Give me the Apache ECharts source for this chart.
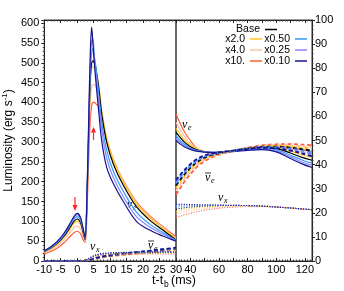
<!DOCTYPE html>
<html><head><meta charset="utf-8">
<script src="https://cdn.jsdelivr.net/npm/echarts@6/dist/echarts.min.js"></script>
<style>html,body{margin:0;padding:0;background:#fff}#c{width:344px;height:291px}</style>
</head><body><div id="c"></div>
<script>
// model order (drawing order, bottom to top)
const models = ['x10.', 'x4.0', 'x2.0', 'Base', 'x0.50', 'x0.25', 'x0.10'];
const colors = ['#ff5a3c', '#ffbfa6', '#ffc81e', '#000000', '#3399ff', '#8585ff', '#141490'];

// left panel times (ms after bounce)
const tLeft = [-10, -8, -6, -4, -2, -1, 0, 1, 1.8, 2.4, 3.0, 3.5, 4.0, 4.4, 4.8, 5.2, 5.6, 6.5, 7.5, 9, 11, 14, 18, 22, 26, 30];
// right panel times
const tRight = [30, 33, 36, 40, 45, 50, 55, 60, 70, 80, 90, 100, 110, 118, 125];

// nu_e, left panel
const nueLeft = [
  [18,24,33,46,63,71,75,69,54,47,135,260,360,392,400,400,397,390,358,304,255,203,149,114,87,61],
  [21,28,39,54,74,84,88,81,62,50,150,290,410,440,445,445,440,420,372,309,257,202,147,112,85,57],
  [23,31,43,60,83,95,100,92,70,53,160,310,450,485,490,488,480,445,378,308,254,199,144,109,82,55],
  [24,33,45,63,87,100,106,97,73,54,165,320,465,500,505,500,490,440,368,298,244,191,137,103,78,53],
  [25,34,47,66,92,105,112,103,77,56,170,335,485,525,535,515,495,425,348,278,226,176,123,93,72,52],
  [25.5,35,49,68,95,109,117,107,80,57,175,345,505,555,560,515,480,405,328,258,210,162,112,86,68,51],
  [26,36,50,70,97,112,120,110,82,58,180,360,530,590,545,500,460,380,300,235,195,150,100,78,63,50]
];
// anti nu_e, left panel
const anueLeft = [
  [0.5,0.5,0.5,0.5,0.5,0.5,0.5,0.5,0.5,0.5,0.8,1.6,2.5,3.3,4.2,5.0,5.7,7.2,8.8,10.7,12.8,15.4,18.5,21.5,24.7,27.5],
  [0.5,0.5,0.5,0.5,0.5,0.5,0.5,0.5,0.5,0.5,0.9,1.8,2.7,3.6,4.5,5.4,6.2,7.8,9.4,11.4,13.6,16.3,19.5,22.6,26,29],
  [0.5,0.5,0.5,0.5,0.5,0.5,0.5,0.5,0.5,0.5,1,1.9,2.9,3.8,4.8,5.7,6.5,8.2,9.9,11.9,14.2,17,20.3,23.5,27,30.3],
  [0.5,0.5,0.5,0.5,0.5,0.5,0.5,0.5,0.5,0.5,1,2,3,4,5,6,6.8,8.5,10.2,12.3,14.7,17.6,21,24.2,27.8,31.3],
  [0.5,0.5,0.5,0.5,0.5,0.5,0.5,0.5,0.5,0.5,1.1,2.2,3.2,4.3,5.3,6.3,7.1,8.9,10.7,12.8,15.2,18.2,21.6,24.9,28.6,32.3],
  [0.5,0.5,0.5,0.5,0.5,0.5,0.5,0.5,0.5,0.5,1.1,2.3,3.4,4.5,5.6,6.6,7.4,9.2,11,13.1,15.6,18.6,22.1,25.5,29.2,33],
  [0.5,0.5,0.5,0.5,0.5,0.5,0.5,0.5,0.5,0.5,1.2,2.4,3.5,4.6,5.7,6.8,7.6,9.4,11.2,13.4,16,19,22.6,26,29.8,33.5]
];
// nu_x, left panel
const nuxLeft = [
  [0.3,0.3,0.3,0.3,0.3,0.3,0.3,0.3,0.5,1.3,2.8,4.4,6,7.5,8.9,10.3,11.6,13.5,15,15.9,16.7,17.3,17.6,17.8,17.9,18],
  [0.3,0.3,0.3,0.3,0.3,0.3,0.3,0.3,0.6,1.6,3.2,5,6.8,8.3,9.8,11.2,12.6,14.6,16.1,17.1,17.9,18.6,19,19.2,19.3,19.4],
  [0.3,0.3,0.3,0.3,0.3,0.3,0.3,0.4,0.7,1.8,3.6,5.5,7.4,8.9,10.4,11.9,13.4,15.4,16.9,17.9,18.7,19.5,20,20.2,20.4,20.5],
  [0.3,0.3,0.3,0.3,0.3,0.3,0.3,0.4,0.8,2,4,6,8,9.5,11,12.5,14,16,17.5,18.5,19.4,20.2,20.8,21.1,21.3,21.5],
  [0.3,0.3,0.3,0.3,0.3,0.3,0.3,0.4,0.9,2.2,4.4,6.4,8.5,10,11.5,13,14.5,16.5,18,19,20,20.8,21.5,21.9,22.2,22.4],
  [0.3,0.3,0.3,0.3,0.3,0.3,0.3,0.5,1,2.4,4.8,6.8,8.9,10.4,12,13.4,14.9,16.9,18.4,19.4,20.4,21.3,22,22.5,22.8,23],
  [0.3,0.3,0.3,0.3,0.3,0.3,0.3,0.5,1,2.5,5,7,9.2,10.8,12.3,13.8,15.2,17.2,18.8,19.8,20.8,21.7,22.4,22.9,23.2,23.5]
];
// nu_e, right panel
const nueRight = [
  [61,57,53.5,50,46.5,45.3,44.7,44.8,45.6,46.5,47.4,47.8,47.1,46.2,45.3],
  [57.5,54.5,51.7,48.8,46.6,45.3,44.8,44.9,45.6,46.4,47.2,47.4,46.4,45.2,44.2],
  [55,52.5,50.2,48,46.3,45.3,44.9,45.0,45.6,46.3,47.0,47.0,45.6,44.1,43],
  [53.5,51.2,49.2,47.4,46,45.3,45,45.1,45.6,46.2,46.8,46.6,44.8,43,41.8],
  [52,50,48.3,46.9,45.8,45.3,45.1,45.1,45.6,46.1,46.6,46.1,43.9,41.9,40.6],
  [51,49.2,47.8,46.6,45.7,45.3,45.1,45.1,45.5,46.0,46.4,45.7,43.2,41.1,39.7],
  [50,48.5,47.3,46.3,45.5,45.2,45.1,45.1,45.4,45.9,46.2,45.3,42.5,40.3,38.8]
];
// anti nu_e, right panel
const anueRight = [
  [27.5,30.3,33,36,39.3,41.5,43,44.1,45.7,47,48,48.4,48.5,48.3,48.1],
  [29,31.7,34.2,37,40,42,43.4,44.3,45.7,46.9,47.8,48.1,48.0,47.6,47.3],
  [30.3,32.8,35.2,37.9,40.7,42.5,43.7,44.5,45.8,46.8,47.6,47.8,47.5,47.0,46.6],
  [31.3,33.8,36,38.6,41.2,42.9,44,44.7,45.8,46.7,47.4,47.5,47.0,46.4,45.8],
  [32.3,34.7,36.8,39.3,41.7,43.3,44.2,44.9,45.8,46.6,47.2,47.2,46.6,45.8,45],
  [33,35.3,37.4,39.8,42.1,43.6,44.4,45.0,45.8,46.6,47.1,47.0,46.2,45.2,44.2],
  [33.5,35.8,37.8,40.2,42.4,43.8,44.6,45.1,45.8,46.5,47.0,46.8,45.8,44.6,43.4]
];
// nu_x, right panel
const nuxRight = [
  [18,18.6,19.2,19.8,20.5,21.1,21.5,21.9,22.4,22.6,22.6,22.3,22.0,21.6,21.3],
  [19.4,19.9,20.4,20.9,21.4,21.8,22.1,22.4,22.7,22.8,22.7,22.4,22.0,21.6,21.3],
  [20.5,20.9,21.3,21.7,22.1,22.4,22.6,22.8,22.9,22.9,22.8,22.4,22.0,21.6,21.3],
  [21.5,21.8,22.1,22.4,22.6,22.8,22.9,23.0,23.0,23.0,22.8,22.4,22.0,21.6,21.3],
  [22.4,22.6,22.8,22.9,23,23.1,23.1,23.1,23.1,23.0,22.8,22.4,22.0,21.6,21.3],
  [23,23.1,23.2,23.2,23.2,23.2,23.2,23.2,23.1,23.0,22.8,22.4,22.0,21.6,21.3],
  [23.5,23.5,23.5,23.4,23.4,23.3,23.3,23.2,23.1,23.0,22.8,22.4,22.0,21.6,21.3]
];

const FONT = 'Liberation Sans';
const species = [
  { left: nueLeft, right: nueRight, type: 'solid', width: 1.2 },
  { left: anueLeft, right: anueRight, type: [4, 2.5], width: 1.8 },
  { left: nuxLeft, right: nuxRight, type: [1, 1.6], width: 1.1 }
];

const series = [];
species.forEach(sp => {
  models.forEach((m, i) => {
    series.push({
      name: m, type: 'line', xAxisIndex: 0, yAxisIndex: 0,
      data: tLeft.map((t, k) => [t, sp.left[i][k]]),
      showSymbol: false, smooth: 0.35, silent: true,
      lineStyle: { color: colors[i], width: sp.width, type: sp.type },
      itemStyle: { color: colors[i] }
    });
    series.push({
      name: m, type: 'line', xAxisIndex: 2, yAxisIndex: 1,
      data: tRight.map((t, k) => [t, sp.right[i][k]]),
      showSymbol: false, smooth: 0.35, silent: true,
      lineStyle: { color: colors[i], width: sp.width, type: sp.type },
      itemStyle: { color: colors[i] }
    });
  });
});

const axLine = { show: true, onZero: false, lineStyle: { color: '#222', width: 1 } };
const lbl = { color: '#000', fontSize: 11, fontFamily: FONT };

const legendBase = {
  orient: 'vertical', align: 'right', icon: 'rect', itemWidth: 12, itemHeight: 1.5,
  padding: 0, itemGap: 0, selectedMode: false,
  textStyle: { fontSize: 10.5, fontFamily: FONT, color: '#000', lineHeight: 9.6 }
};

function nu(x, y, sub, bar) {
  const els = [
    { type: 'text', x: x, y: y, style: { text: 'ν', font: 'italic 12px "Liberation Serif"', fill: '#000', verticalAlign: 'middle' } },
    { type: 'text', x: x + 6, y: y + 3, style: { text: sub, font: 'italic 8px "Liberation Serif"', fill: '#000', verticalAlign: 'middle' } }
  ];
  if (bar) els.push({ type: 'line', shape: { x1: x, y1: y - 5, x2: x + 6, y2: y - 5 }, style: { stroke: '#000', lineWidth: 0.8 } });
  return els;
}

const graphic = [].concat(
  nu(127, 205, 'e'), nu(90, 247, 'x'), nu(148, 246, 'e', true),
  nu(182, 125, 'e'), nu(205, 178, 'e', true), nu(218, 198, 'x'),
  [
    { type: 'line', shape: { x1: 75, y1: 197, x2: 75, y2: 207 }, style: { stroke: '#ff2020', lineWidth: 1.2 } },
    { type: 'polygon', shape: { points: [[72.5, 205], [77.5, 205], [75, 211]] }, style: { fill: '#ff2020' } },
    { type: 'line', shape: { x1: 93.5, y1: 140, x2: 93.5, y2: 131 }, style: { stroke: '#ff2020', lineWidth: 1.2 } },
    { type: 'polygon', shape: { points: [[91, 132.5], [96, 132.5], [93.5, 127]] }, style: { fill: '#ff2020' } },
    { type: 'text', x: 152, y: 281, style: { text: 't-t', font: '12.5px "Liberation Sans"', fill: '#000', verticalAlign: 'middle' } },
    { type: 'text', x: 164, y: 284.5, style: { text: 'b', font: '8.5px "Liberation Sans"', fill: '#000', verticalAlign: 'middle' } },
    { type: 'text', x: 171, y: 281, style: { text: '(ms)', font: '12.5px "Liberation Sans"', fill: '#000', verticalAlign: 'middle' } }
  ]
);

const tickX = { inside: true, length: 3, lineStyle: { color: '#222' } };
const minor = { show: true, splitNumber: 5, length: 1.5, lineStyle: { color: '#444' } };

const chart = echarts.init(document.getElementById('c'), null, { renderer: 'canvas' });
chart.setOption({
  animation: false,
  backgroundColor: '#fff',
  grid: [
    { left: 41, top: 20, width: 135, height: 241, show: true, borderColor: '#333', borderWidth: 1 },
    { left: 176, top: 20, width: 136, height: 241, show: true, borderColor: '#333', borderWidth: 1 }
  ],
  xAxis: [
    { gridIndex: 0, type: 'value', min: -10, max: 30, interval: 5, position: 'bottom',
      axisLine: axLine, splitLine: { show: false }, axisTick: tickX, minorTick: minor,
      axisLabel: Object.assign({ margin: 3 }, lbl) },
    { gridIndex: 0, type: 'value', min: -10, max: 30, interval: 5, position: 'top',
      axisLine: axLine, splitLine: { show: false }, axisLabel: { show: false },
      axisTick: tickX, minorTick: minor },
    { gridIndex: 1, type: 'value', min: 30, max: 125, interval: 10, position: 'bottom',
      axisLine: axLine, splitLine: { show: false }, axisTick: tickX, minorTick: minor,
      axisLabel: Object.assign({ margin: 3, showMinLabel: false, showMaxLabel: false,
        formatter: v => (v % 20 === 0 && v >= 40 && v <= 120) ? String(v) : '' }, lbl) },
    { gridIndex: 1, type: 'value', min: 30, max: 125, interval: 10, position: 'top',
      axisLine: axLine, splitLine: { show: false }, axisLabel: { show: false },
      axisTick: tickX, minorTick: minor }
  ],
  yAxis: [
    { gridIndex: 0, type: 'value', min: 0, max: 608, interval: 50, position: 'left',
      axisLine: axLine, splitLine: { show: false },
      axisTick: { inside: false, length: 3, lineStyle: { color: '#222' } },
      minorTick: minor,
      axisLabel: Object.assign({ margin: 5, formatter: v => (v % 50 === 0 && v <= 600) ? String(v) : '' }, lbl),
      name: 'Luminosity (erg s{sup|-1})', nameLocation: 'middle', nameGap: 27, nameRotate: 90,
      nameTextStyle: { fontSize: 12, fontFamily: FONT, color: '#000', lineHeight: 16,
        rich: { sup: { fontSize: 8, fontFamily: FONT, color: '#000', verticalAlign: 'top', lineHeight: 8 } } } },
    { gridIndex: 1, type: 'value', min: 0, max: 100, interval: 10, position: 'right',
      axisLine: axLine, splitLine: { show: false },
      axisTick: { inside: false, length: 3, lineStyle: { color: '#222' } },
      minorTick: minor,
      axisLabel: Object.assign({ margin: 3 }, lbl) }
  ],
  legend: [
    Object.assign({}, legendBase, { data: ['Base'], right: 67, top: 24 }),
    Object.assign({}, legendBase, { data: ['x2.0', 'x4.0', 'x10.'], right: 82, top: 33.5 }),
    Object.assign({}, legendBase, { data: ['x0.50', 'x0.25', 'x0.10'], right: 37, top: 33.5 })
  ],
  series: series,
  graphic: graphic
});
</script>
</body></html>
